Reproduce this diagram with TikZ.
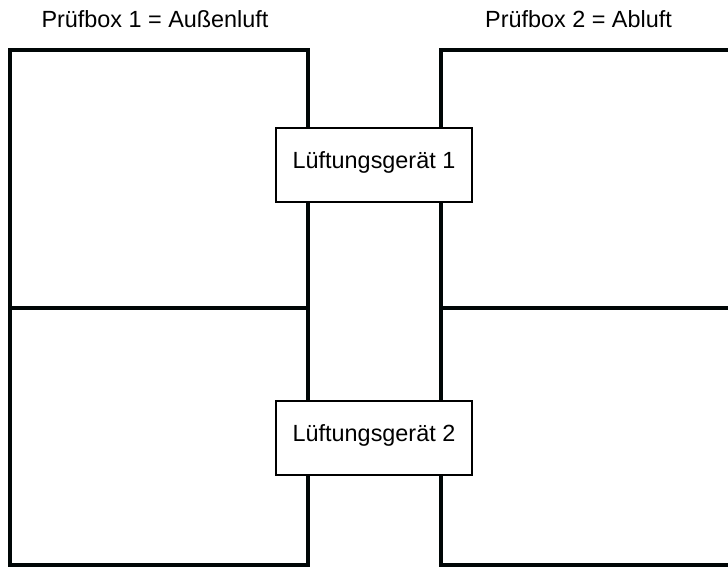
\documentclass[tikz,border=0pt]{standalone}
\usepackage{fontspec}
\setmainfont{Liberation Sans}
\tikzset{
    wall/.style={line width=4pt, draw=black!95!teal},
    geraet/.style={draw, line width=1.5pt, fill=white, inner sep=0pt,
        minimum width=196pt, minimum height=74pt, text height=0.716em, text depth=0pt},
    titel/.style={inner sep=0pt, text height=0.716em, text depth=0pt}
}
\begin{document}
\begin{tikzpicture}[x=1pt,y=-1pt,font=\fontsize{23.4}{28}\selectfont]
        % Define the dimensions of the test boxes
        \def\leftx{10}    % outer wall of box 1
        \def\innerl{308}  % inner wall of box 1
        \def\innerr{441}  % inner wall of box 2
        \def\rightx{740}  % box 2 runs off the page
        \def\topy{50}
        \def\midy{308}
        \def\boty{565}

        \useasboundingbox (0,0) rectangle (728,568);
        \clip (0,0) rectangle (728,568);

        % Draw the walls of both boxes
        \draw[wall] (\leftx,\topy) rectangle (\innerl,\boty);
        \draw[wall] (\rightx,\topy) -- (\innerr,\topy) -- (\innerr,\boty) -- (\rightx,\boty);
        \foreach \xa/\xb in {\leftx/\innerl, \innerr/\rightx} {
            \draw[wall] (\xa,\midy) -- (\xb,\midy);
        }

        % Add box labels
        \node[titel] (pruefbox1) at (155,23.5) {Prüfbox 1 = Außenluft};
        \node[titel] (pruefbox2) at (578.5,23.5) {Prüfbox 2 = Abluft};

        % Add the ventilation units between the boxes
        \foreach \n/\y in {1/165, 2/438} {
            \node[geraet] (geraet\n) at (374,\y) {Lüftungsgerät \n};
        }
    \end{tikzpicture}
\end{document}
